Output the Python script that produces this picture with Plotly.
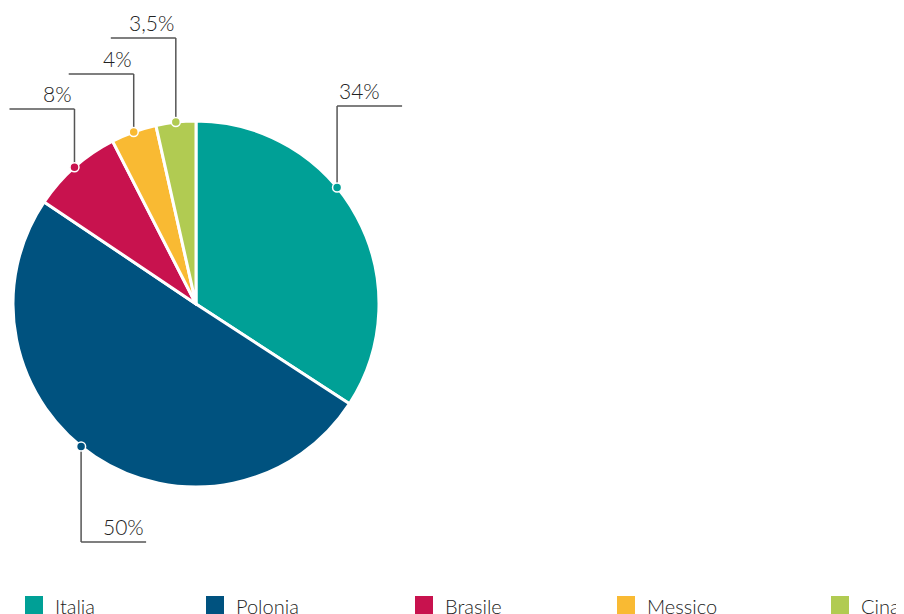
import math
import plotly.graph_objects as go

# ---- data ----
countries = ["Italia", "Polonia", "Brasile", "Messico", "Cina"]
shares = [34, 50, 8, 4, 3.5]
share_labels = ["34%", "50%", "8%", "4%", "3,5%"]
colors = ["#00A096", "#00527F", "#C8124E", "#F9BA33", "#B1CB52"]

# ---- layout helpers ----
W, H = 904, 614
OFF = 8                              # page body margin in the browser
cx, cy, R = 196, 304, 183           # pie centre / radius in page pixels
FONT = "Lato"

def px(x):
    return (x - OFF) / W

def py(y):
    return 1 - (y - OFF) / H

fig = go.Figure(go.Pie(
    labels=countries, values=shares, sort=False, direction="clockwise",
    rotation=0, marker=dict(colors=colors, line=dict(color="white", width=3)),
    textinfo="none", hoverinfo="label+value", showlegend=False,
    domain=dict(x=[px(cx - R), px(cx + R)], y=[py(cy + R), py(cy - R)]),
))

# leader lines: where along each slice the dot sits, the level of the label line,
# the direction of the horizontal tick, and where the text sits
anchor_frac = [0.41, 0.53, 0.5, 0.5, 0.5]
level_y = [106, 542, 109, 74, 38]
h_dir = [1, 1, -1, -1, -1]
text_at_end = [False, True, False, False, False]
H_LEN = 65

shapes, annotations = [], []
total = sum(shares)
start = 0.0
for i, v in enumerate(shares):
    ext = v / total * 360
    ang = math.radians(start + anchor_frac[i] * ext)
    start += ext
    dx_ = cx + R * math.sin(ang)
    dy_ = cy - R * math.cos(ang)
    ly = level_y[i]
    x_end = dx_ + h_dir[i] * H_LEN
    line = dict(color="#555555", width=1.5)
    shapes.append(dict(type="line", xref="paper", yref="paper",
                       x0=px(dx_), y0=py(dy_), x1=px(dx_), y1=py(ly), line=line))
    shapes.append(dict(type="line", xref="paper", yref="paper",
                       x0=px(dx_), y0=py(ly), x1=px(x_end), y1=py(ly), line=line))
    rr = 4.5
    shapes.append(dict(type="circle", xref="paper", yref="paper",
                       x0=px(dx_ - rr), x1=px(dx_ + rr), y0=py(dy_ + rr), y1=py(dy_ - rr),
                       fillcolor=colors[i], line=dict(color="white", width=1.5)))
    if text_at_end[i]:
        tx, xa = x_end, "right"
    else:
        tx, xa = dx_, ("left" if h_dir[i] > 0 else "right")
    annotations.append(dict(xref="paper", yref="paper", x=px(tx), y=py(ly - 1),
                            xanchor=xa, yanchor="bottom", showarrow=False,
                            text=share_labels[i],
                            font=dict(family=FONT, size=21, color="#222222", weight=300)))

# custom legend
legend_x = [25, 206, 415, 617, 831]
sq = 18
leg_top = 596
for i, name in enumerate(countries):
    x0 = legend_x[i]
    shapes.append(dict(type="rect", xref="paper", yref="paper",
                       x0=px(x0), x1=px(x0 + sq), y0=py(leg_top + sq), y1=py(leg_top),
                       fillcolor=colors[i], line=dict(width=0)))
    annotations.append(dict(xref="paper", yref="paper", x=px(x0 + sq + 10),
                            y=py(leg_top - 4), xanchor="left", yanchor="top",
                            showarrow=False, text=name,
                            font=dict(family=FONT, size=20, color="#222222", weight=300)))

fig.update_layout(
    width=W, height=H, margin=dict(l=0, r=0, t=0, b=0),
    paper_bgcolor="white", plot_bgcolor="white",
    shapes=shapes, annotations=annotations,
)

fig.write_html("out.html")
